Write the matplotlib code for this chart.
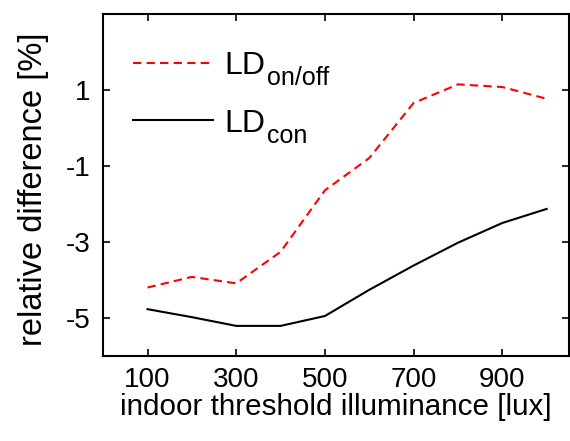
import matplotlib
matplotlib.use('Agg')
import matplotlib.pyplot as plt

plt.rcParams['font.family'] = ['Liberation Sans', 'DejaVu Sans']
plt.rcParams['axes.unicode_minus'] = False

# data
illuminance = [100, 200, 300, 400, 500, 600, 700, 800, 900, 1000]
ld_onoff = [-4.2, -3.92, -4.09, -3.26, -1.64, -0.79, 0.66, 1.15, 1.08, 0.77]
ld_con = [-4.77, -4.98, -5.21, -5.21, -4.95, -4.26, -3.62, -3.02, -2.5, -2.13]
xticks = [100, 300, 500, 700, 900]
yticks = [-5, -3, -1, 1]
subscripts = ['on/off', 'con']

fig = plt.figure(figsize=(5.7, 4.41), dpi=100)
ax = fig.add_axes([0.181, 0.193, 0.817, 0.775])

ax.plot(illuminance, ld_onoff, color='red', linestyle=(0, (4, 2.5)), linewidth=1.5, label='LD')
ax.plot(illuminance, ld_con, color='black', linestyle='-', linewidth=1.5, label='LD')

ax.set_xlim(0, 1050)
ax.set_ylim(-6, 3)
ax.set_xticks(xticks)
ax.set_yticks(yticks)
ax.tick_params(direction='in', length=5, width=1.2, labelsize=20, right=True, top=True)
ax.tick_params(axis='x', pad=8)
ax.tick_params(axis='y', pad=9)
for s in ax.spines.values():
    s.set_linewidth(1.5)

ax.set_xlabel('indoor threshold illuminance [lux]', fontsize=21.3, labelpad=0)
ax.set_ylabel('relative difference [%]', fontsize=23.5)
ax.yaxis.set_label_coords(-0.116, 0.488)

leg = ax.legend(loc='upper left', fontsize=23, frameon=False, handlelength=2.5,
                handletextpad=0.37, labelspacing=0.86, borderaxespad=0,
                bbox_to_anchor=(0.036, 0.929))

# big subscripts next to the "LD" legend labels
fig.canvas.draw()
for txt, sub in zip(leg.get_texts(), subscripts):
    bb = txt.get_window_extent()
    fig.text((bb.x1 + 2) / fig.bbox.width, (bb.y0 - 9) / fig.bbox.height, sub,
             fontsize=18, ha='left', va='bottom')

plt.savefig('out.png', dpi=100)
